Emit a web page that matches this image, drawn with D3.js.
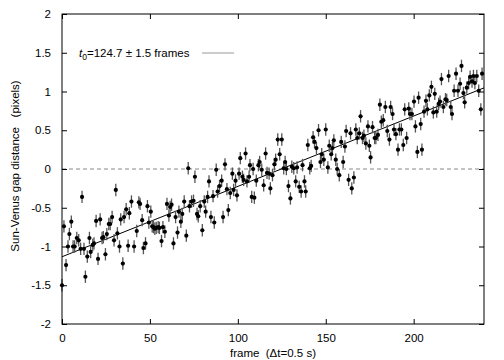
<!DOCTYPE html>
<html><head><meta charset="utf-8">
<script src="https://cdn.jsdelivr.net/npm/d3@7"></script>
<style>
html,body{margin:0;padding:0;background:#fff;}
text{font-family:"Liberation Sans",Arial,Helvetica,sans-serif;}
</style></head>
<body>
<svg id="chart" width="504" height="360"></svg>
<script>
// ---- data ----
const frames = [0.0,1.1,2.3,3.4,4.2,5.3,6.3,7.2,8.4,9.5,10.6,11.4,12.5,13.3,14.4,15.6,16.3,17.5,18.2,19.4,20.5,21.7,22.8,23.5,24.7,25.5,26.6,27.4,28.5,29.6,30.6,31.5,32.7,33.4,34.6,35.3,36.5,37.6,38.3,39.5,41.0,
42.5,43.7,44.4,45.6,46.3,47.5,48.6,49.4,50.5,51.3,52.0,52.8,53.6,54.7,55.4,56.6,57.4,58.5,59.7,60.8,61.5,62.3,63.4,64.6,65.7,66.5,67.6,68.4,69.5,70.7,71.8,72.5,73.7,74.8,75.6,76.8,77.5,78.6,79.8,80.9,81.7,
82.8,83.6,84.7,85.9,86.6,87.7,88.5,89.6,90.8,91.6,92.7,93.8,94.6,95.7,96.9,97.6,98.7,99.5,100.7,101.4,102.6,103.3,104.4,105.2,106.4,106.9,107.9,108.7,109.4,110.5,111.7,112.4,113.6,114.7,115.8,116.6,117.8,118.5,119.7,120.8,121.5,
122.7,123.8,125.0,126.1,126.9,127.6,128.8,129.9,130.7,131.8,132.9,133.7,134.9,136.0,136.8,137.9,138.6,139.8,140.9,141.7,142.8,143.6,144.7,145.9,147.0,147.7,148.9,150.0,151.2,152.0,153.1,153.8,154.6,155.7,156.5,157.7,158.8,159.9,
160.9,161.6,163.0,164.1,164.8,166.0,167.1,167.9,169.1,169.8,170.9,171.7,172.8,174.0,174.8,175.5,176.6,177.8,178.5,179.7,180.8,181.6,182.7,183.9,185.0,186.2,186.9,188.0,188.8,189.9,191.1,191.9,193.0,194.1,194.9,196.0,197.2,197.9,
199.0,200.2,201.0,202.1,202.8,204.0,204.7,205.9,207.0,207.8,208.9,210.1,211.2,212.0,213.1,214.2,215.0,215.8,216.9,218.1,218.8,219.9,221.1,221.8,223.0,224.1,225.2,226.4,227.2,228.3,229.0,230.2,231.3,232.1,233.2,234.0,234.8,235.9,237.0,238.2,238.9];
const gap = [-1.5,-0.74,-1.24,-1.0,-0.84,-0.68,-1.0,-1.0,-0.89,-0.92,-1.03,-0.36,-1.03,-1.39,-1.13,-0.89,-1.07,-0.98,-0.96,-0.67,-1.16,-0.65,-0.89,-0.88,-1.10,-0.84,-0.71,-0.71,-0.62,-0.92,-0.27,-0.83,-1.0,-0.65,-1.22,-0.62,-0.52,-0.99,-0.57,-0.42,-1.0,
-0.8,-0.43,-0.45,-0.66,-1.02,-0.96,-0.48,-0.69,-0.55,-0.74,-0.75,-0.77,-0.76,-0.75,-0.76,-0.93,-0.75,-0.81,-0.45,-0.6,-0.49,-0.46,-0.96,-0.62,-0.82,-0.55,-0.68,-0.58,-0.42,-0.86,0.01,-0.48,-0.42,-0.41,-0.10,-0.58,-0.61,-0.48,-0.79,-0.42,-0.55,
-0.36,-0.16,-0.62,-0.35,-0.69,-0.01,-0.29,-0.22,-0.15,-0.62,0.06,-0.26,-0.53,-0.31,-0.06,-0.27,-0.15,-0.34,-0.06,0.14,-0.10,-0.14,0.2,-0.16,-0.10,0.05,-0.36,0.0,-0.37,-0.15,0.05,0.09,-0.01,-0.21,0.2,-0.05,-0.06,-0.25,-0.08,0.06,0.12,
0.38,0.19,0.38,0.01,0.09,0.0,-0.22,-0.38,0.03,0.01,-0.16,0.02,-0.23,-0.29,0.05,-0.16,-0.29,0.31,0.01,0.04,0.41,0.35,0.27,0.5,0.09,0.19,0.12,0.51,0.02,0.3,0.19,0.27,0.37,0.12,0.0,-0.08,0.35,0.09,
0.29,0.49,-0.14,0.46,-0.25,-0.11,0.51,0.40,0.46,0.68,0.40,0.43,0.33,0.55,0.3,0.15,0.54,0.40,0.40,0.44,0.83,0.61,0.63,0.80,0.49,0.38,0.8,0.71,0.51,0.45,0.25,0.51,0.51,0.31,0.77,0.40,0.78,0.71,
0.71,0.87,0.55,0.22,0.92,0.58,0.25,0.74,0.88,0.77,0.95,1.06,0.73,0.97,0.74,0.84,0.87,1.16,0.80,0.90,0.89,1.2,0.80,0.71,1.01,1.23,1.01,1.10,1.33,0.98,0.86,1.05,1.11,1.19,1.13,1.2,1.11,1.2,1.01,0.77,1.23];
const gapErr = 0.08;               // typical error-bar half-length (pixels)
const fitT0 = 124.7, fitSlope = 0.00908; // linear fit: y = slope*(frame - t0)
const xTicks = [0,50,100,150,200];
const yTicks = [-2,-1.5,-1,-0.5,0,0.5,1,1.5,2];
const xDomain = [0,240], yDomain = [-2,2];

// ---- layout ----
const svg = d3.select("#chart");
const L=62, R=484, T=14, B=324;
const x = d3.scaleLinear().domain(xDomain).range([L,R]);
const y = d3.scaleLinear().domain(yDomain).range([B,T]);
const fs = "11.5px";

// zero dashed line
svg.append("line").attr("x1",x(xDomain[0])).attr("x2",x(xDomain[1]))
  .attr("y1",y(0)).attr("y2",y(0))
  .attr("stroke","#888").attr("stroke-width",1).attr("stroke-dasharray","4,3");

// fit line
svg.append("line")
  .attr("x1",x(xDomain[0])).attr("y1",y(fitSlope*(xDomain[0]-fitT0)))
  .attr("x2",x(xDomain[1])).attr("y2",y(fitSlope*(xDomain[1]-fitT0)))
  .attr("stroke","#000").attr("stroke-width",1);

// error bars + points
const pts = frames.map((f,i)=>({f, v:gap[i]}));
svg.append("g").selectAll("line").data(pts).join("line")
  .attr("x1",d=>x(d.f)).attr("x2",d=>x(d.f))
  .attr("y1",d=>y(d.v-gapErr)).attr("y2",d=>y(d.v+gapErr))
  .attr("stroke","#555").attr("stroke-width",1.3);
svg.append("g").selectAll("circle").data(pts).join("circle")
  .attr("cx",d=>x(d.f)).attr("cy",d=>y(d.v)).attr("r",2.1).attr("fill","#000");

// axes (gnuplot style: inward ticks, mirrored)
const tl = 5;
function styleAxis(g){ g.select(".domain").remove(); g.selectAll("line").attr("stroke","#000"); g.selectAll("text").attr("font-size",fs).attr("fill","#000").style("font-family","'Liberation Sans',Arial,sans-serif"); }
svg.append("g").attr("transform",`translate(0,${B})`)
  .call(d3.axisBottom(x).tickValues(xTicks).tickSize(-tl).tickPadding(10).tickFormat(d3.format("d")))
  .call(styleAxis);
svg.append("g").attr("transform",`translate(0,${T})`)
  .call(d3.axisTop(x).tickValues(xTicks).tickSize(-tl).tickFormat(""))
  .call(styleAxis);
svg.append("g").attr("transform",`translate(${L},0)`)
  .call(d3.axisLeft(y).tickValues(yTicks).tickSize(-tl).tickPadding(11).tickFormat(d=>d3.format("")(d).replace("−","-")))
  .call(styleAxis);
svg.append("g").attr("transform",`translate(${R},0)`)
  .call(d3.axisRight(y).tickValues(yTicks).tickSize(-tl).tickFormat(""))
  .call(styleAxis);

// frame
svg.append("rect").attr("x",L).attr("y",T).attr("width",R-L).attr("height",B-T)
  .attr("fill","none").attr("stroke","#000").attr("stroke-width",1);

// axis titles
svg.append("text").attr("x",(L+R)/2).attr("y",357).attr("text-anchor","middle")
  .attr("font-size",fs).text("frame  (\u0394t=0.5 s)").attr("xml:space","preserve").style("white-space","pre");
svg.append("text").attr("transform","translate(19,166) rotate(-90)").attr("text-anchor","middle")
  .attr("font-size",fs).style("white-space","pre").text("Sun-Venus gap distance   (pixels)");

// legend
const lg = svg.append("text").attr("x",79).attr("y",57).attr("font-size",fs);
lg.append("tspan").attr("font-style","italic").text("t");
lg.append("tspan").attr("font-size","8.5px").attr("dy",3).text("0");
lg.append("tspan").attr("dy",-3).text("=124.7 \u00b1 1.5 frames");
svg.append("line").attr("x1",202).attr("x2",234).attr("y1",53).attr("y2",53)
  .attr("stroke","#999").attr("stroke-width",1);
</script>
</body></html>
